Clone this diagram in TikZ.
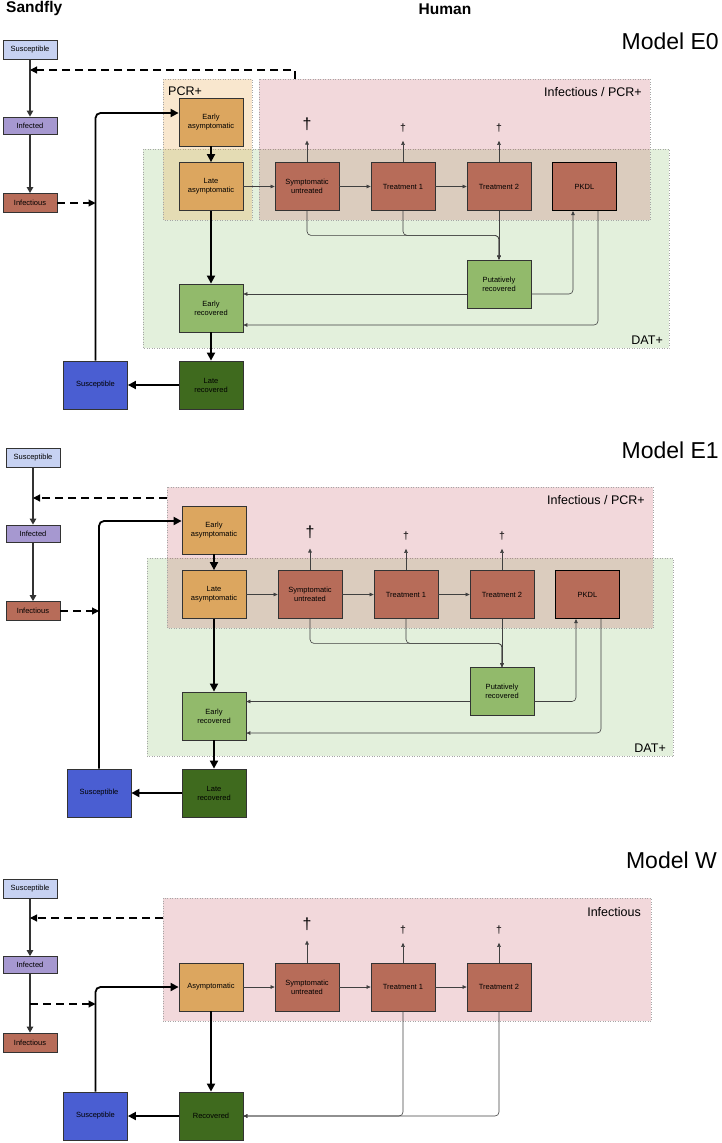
\documentclass[tikz,border=0pt]{standalone}
\usepackage{fontspec}
\setmainfont{Liberation Sans}
\usepackage{xcolor}
\usepackage{tikz}
\usetikzlibrary{arrows.meta}

\definecolor{sfsus}{HTML}{C7D2F2}
\definecolor{sfinf}{HTML}{A698D0}
\definecolor{redbox}{HTML}{B76C59}
\definecolor{asymbox}{HTML}{DCA65F}
\definecolor{ltgreen}{HTML}{92BA6B}
\definecolor{dkgreen}{HTML}{3F6A1E}
\definecolor{bluebox}{HTML}{4A5ED2}
\definecolor{pcrfill}{HTML}{E6A03C}
\definecolor{inffill}{HTML}{BE3C4B}
\definecolor{datfill}{HTML}{64AA3C}

\tikzstyle{cbox} = [rectangle, text centered, align=center, draw=black!80, line width=0.8pt, font=\fontsize{7.5}{9}\selectfont, inner sep=1pt]
\tikzstyle{sandfly} = [cbox, minimum width=54pt, minimum height=19pt]
\tikzstyle{human} = [cbox, minimum width=64pt, minimum height=48pt]
\tikzstyle{pcrzone} = [draw=black!35, dotted, line width=0.5pt, fill=pcrfill, fill opacity=0.25]
\tikzstyle{infzone} = [draw=black!35, dotted, line width=0.5pt, fill=inffill, fill opacity=0.2]
\tikzstyle{datzone} = [draw=black!35, dotted, line width=0.5pt, fill=datfill, fill opacity=0.18]
\tikzstyle{zonelabel} = [font=\fontsize{12.5}{14}\selectfont, inner sep=0pt]
\tikzstyle{titletext} = [font=\fontsize{15.5}{18}\selectfont\bfseries, inner sep=0pt]
\tikzstyle{modeltitle} = [font=\fontsize{23}{26}\selectfont, anchor=base east, inner sep=0pt]
\tikzstyle{dagbig} = [font=\fontsize{16}{16}\selectfont, inner sep=0pt]
\tikzstyle{dagsmall} = [font=\fontsize{10.5}{11}\selectfont, inner sep=0pt]
\tikzstyle{thickarrow} = [line width=1.8pt, -{Triangle[length=8pt,width=8pt]}, rounded corners=5pt]
\tikzstyle{thinarrow} = [line width=0.6pt, black!75, -{Triangle[length=4pt,width=3.6pt]}, rounded corners=4pt]
\tikzstyle{sfarrow} = [line width=1.1pt, black!80, -{Triangle[length=6pt,width=6.5pt]}]
\tikzstyle{dasharrow} = [line width=1.1pt, dash pattern=on 8pt off 5pt, -{Triangle[length=7pt,width=7pt]}]

\begin{document}
\begin{tikzpicture}[x=1pt, y=-1pt, node distance=96pt]
\useasboundingbox (0,0) rectangle (722,1143);
\node (sandfly) [titletext, anchor=base west] at (6,12.5) {Sandfly};
\node (human) [titletext, anchor=base] at (445,14) {Human};

% ---------------- Model E0
\node (mE0) [modeltitle] at (719,49) {Model E0};
\draw[datzone] (143,149) rectangle (669,348);
\draw[pcrzone] (163,79) rectangle (252,220);
\draw[infzone] (259,79) rectangle (650,220);
\node (pcrlab0) [zonelabel, anchor=base west] at (168,95) {PCR+};
\node (inflab0) [zonelabel, anchor=base east] at (642,96.5) {Infectious / PCR+};
\node (datlab0) [zonelabel, anchor=base east] at (663,344) {DAT+};

\node (ssus0) [sandfly, fill=sfsus] at (30,49.5) {Susceptible};
\node (sinf0) [sandfly, fill=sfinf, minimum height=17pt] at (30,125.5) {Infected};
\node (sifs0) [sandfly, fill=redbox] at (30,203) {Infectious};

\node (eas0) [human, fill=asymbox] at (211,122) {Early\\asymptomatic};
\node (las0) [human, fill=asymbox] at (211,186.5) {Late\\asymptomatic};
\node (sut0) [human, fill=redbox, right of=las0] {Symptomatic\\untreated};
\node (tra0) [human, fill=redbox, right of=sut0] {Treatment 1};
\node (trb0) [human, fill=redbox, right of=tra0] {Treatment 2};
\node (pkdl0) [human, fill=redbox, right of=trb0, xshift=-10.5pt, draw=black, line width=1.2pt] {PKDL};
\node (put0) [human, fill=ltgreen, below of=trb0, yshift=-1.5pt] {Putatively\\recovered};
\node (erc0) [human, fill=ltgreen] at (211,308) {Early\\recovered};
\node (lrc0) [human, fill=dkgreen] at (211,385) {Late\\recovered};
\node (sus0) [human, fill=bluebox, left of=lrc0, xshift=-19.5pt] {Susceptible};
\node (dga0) [dagbig] at (307,124) {†};
\node (dgb0) [dagsmall] at (403,128.5) {†};
\node (dgc0) [dagsmall] at (499,128.5) {†};

\coordinate (fb0) at (295,79);
\coordinate (jn0) at (30,70);
\coordinate (pw0) at ([yshift=-10pt]put0.west);
\coordinate (pe0) at ([yshift=-10pt]put0.east);
\draw[sfarrow] (ssus0) -- (sinf0);
\draw[sfarrow] (sinf0) -- (sifs0);
\draw[dasharrow] (fb0) |- (jn0);
\draw[dasharrow] (sifs0) -- (sifs0 -| sus0.north);
\draw[thickarrow] (sus0) |- ([yshift=9pt]eas0.west);
\draw[thickarrow] (eas0) -- (las0);
\draw[thickarrow] (las0) -- (erc0);
\draw[thickarrow] (erc0) -- (lrc0);
\draw[thickarrow] (lrc0) -- (sus0);
\draw[thinarrow] (las0) -- (sut0);
\draw[thinarrow] (sut0) -- (tra0);
\draw[thinarrow] (tra0) -- (trb0);
\draw[thinarrow, shorten >=10pt] (sut0) -- (dga0);
\draw[thinarrow, shorten >=8pt] (tra0) -- (dgb0);
\draw[thinarrow, shorten >=8pt] (trb0) -- (dgc0);
\draw[thinarrow] (sut0.south) -- ++(0,24.5) -| (put0.north);
\draw[thinarrow] (tra0.south) -- ++(0,24.5) -| (put0.north);
\draw[thinarrow] (trb0) -- (put0);
\draw[thinarrow] (pw0) -- (pw0 -| erc0.east);
\draw[thinarrow] (pe0) -| ([xshift=-11.5pt]pkdl0.south);
\draw[thinarrow] ([xshift=13.5pt]pkdl0.south) |- ([yshift=-17pt]erc0.east);

% ---------------- Model E1
\node (mE1) [modeltitle] at (719,458) {Model E1};
\draw[datzone] (147,558) rectangle (673,756);
\draw[infzone] (167,487) rectangle (653,628);
\node (inflab1) [zonelabel, anchor=base east] at (645,504) {Infectious / PCR+};
\node (datlab1) [zonelabel, anchor=base east] at (666,752) {DAT+};

\node (ssus1) [sandfly, fill=sfsus] at (33,457.5) {Susceptible};
\node (sinf1) [sandfly, fill=sfinf, minimum height=17pt] at (33,533.5) {Infected};
\node (sifs1) [sandfly, fill=redbox] at (33,611) {Infectious};

\node (eas1) [human, fill=asymbox] at (214,530) {Early\\asymptomatic};
\node (las1) [human, fill=asymbox] at (214,594.5) {Late\\asymptomatic};
\node (sut1) [human, fill=redbox, right of=las1] {Symptomatic\\untreated};
\node (tra1) [human, fill=redbox, right of=sut1] {Treatment 1};
\node (trb1) [human, fill=redbox, right of=tra1] {Treatment 2};
\node (pkdl1) [human, fill=redbox, right of=trb1, xshift=-10.5pt, draw=black, line width=1.2pt] {PKDL};
\node (put1) [human, fill=ltgreen, below of=trb1, yshift=-1pt] {Putatively\\recovered};
\node (erc1) [human, fill=ltgreen] at (214,716) {Early\\recovered};
\node (lrc1) [human, fill=dkgreen] at (214,793) {Late\\recovered};
\node (sus1) [human, fill=bluebox, left of=lrc1, xshift=-19pt] {Susceptible};
\node (dga1) [dagbig] at (310,532) {†};
\node (dgb1) [dagsmall] at (406,536.5) {†};
\node (dgc1) [dagsmall] at (502,536.5) {†};

\coordinate (fb1) at (167,498);
\coordinate (jn1) at (33,498);
\coordinate (pw1) at ([yshift=-10pt]put1.west);
\coordinate (pe1) at ([yshift=-10pt]put1.east);
\draw[sfarrow] (ssus1) -- (sinf1);
\draw[sfarrow] (sinf1) -- (sifs1);
\draw[dasharrow] (fb1) -- (jn1);
\draw[dasharrow] (sifs1) -- (sifs1 -| sus1.north);
\draw[thickarrow] (sus1) |- ([yshift=9pt]eas1.west);
\draw[thickarrow] (eas1) -- (las1);
\draw[thickarrow] (las1) -- (erc1);
\draw[thickarrow] (erc1) -- (lrc1);
\draw[thickarrow] (lrc1) -- (sus1);
\draw[thinarrow] (las1) -- (sut1);
\draw[thinarrow] (sut1) -- (tra1);
\draw[thinarrow] (tra1) -- (trb1);
\draw[thinarrow, shorten >=10pt] (sut1) -- (dga1);
\draw[thinarrow, shorten >=8pt] (tra1) -- (dgb1);
\draw[thinarrow, shorten >=8pt] (trb1) -- (dgc1);
\draw[thinarrow] (sut1.south) -- ++(0,24.5) -| (put1.north);
\draw[thinarrow] (tra1.south) -- ++(0,24.5) -| (put1.north);
\draw[thinarrow] (trb1) -- (put1);
\draw[thinarrow] (pw1) -- (pw1 -| erc1.east);
\draw[thinarrow] (pe1) -| ([xshift=-11.5pt]pkdl1.south);
\draw[thinarrow] ([xshift=13.5pt]pkdl1.south) |- ([yshift=-17pt]erc1.east);

% ---------------- Model W
\node (mW) [modeltitle] at (717,868) {Model W};
\draw[infzone] (163,898) rectangle (651,1021);
\node (inflabw) [zonelabel, anchor=base east] at (641,916) {Infectious};

\node (ssusw) [sandfly, fill=sfsus] at (30,889) {Susceptible};
\node (sinfw) [sandfly, fill=sfinf, minimum height=17pt] at (30,965) {Infected};
\node (sifsw) [sandfly, fill=redbox] at (30,1042.5) {Infectious};

\node (asyw) [human, fill=asymbox] at (211,987) {Asymptomatic};
\node (sutw) [human, fill=redbox, right of=asyw] {Symptomatic\\untreated};
\node (traw) [human, fill=redbox, right of=sutw] {Treatment 1};
\node (trbw) [human, fill=redbox, right of=traw] {Treatment 2};
\node (recw) [human, fill=dkgreen] at (211,1116) {Recovered};
\node (susw) [human, fill=bluebox, left of=recw, xshift=-19.5pt] {Susceptible};
\node (dgaw) [dagbig] at (307,924) {†};
\node (dgbw) [dagsmall] at (403,930.5) {†};
\node (dgcw) [dagsmall] at (499,930.5) {†};

\coordinate (fbw) at (163,918);
\coordinate (jnw) at (30,918);
\coordinate (jsw) at (30,1004);
\draw[sfarrow] (ssusw) -- (sinfw);
\draw[sfarrow] (sinfw) -- (sifsw);
\draw[dasharrow] (fbw) -- (jnw);
\draw[dasharrow] (jsw) -- (jsw -| susw.north);
\draw[thickarrow] (susw) |- (asyw.west);
\draw[thickarrow] (asyw) -- (recw);
\draw[thickarrow] (recw) -- (susw);
\draw[thinarrow] (asyw) -- (sutw);
\draw[thinarrow] (sutw) -- (traw);
\draw[thinarrow] (traw) -- (trbw);
\draw[thinarrow, shorten >=10pt] (sutw) -- (dgaw);
\draw[thinarrow, shorten >=8pt] (traw) -- (dgbw);
\draw[thinarrow, shorten >=8pt] (trbw) -- (dgcw);
\draw[thinarrow] (traw.south) |- (recw.east);
\draw[thinarrow] (trbw.south) |- (recw.east);
\end{tikzpicture}
\end{document}
